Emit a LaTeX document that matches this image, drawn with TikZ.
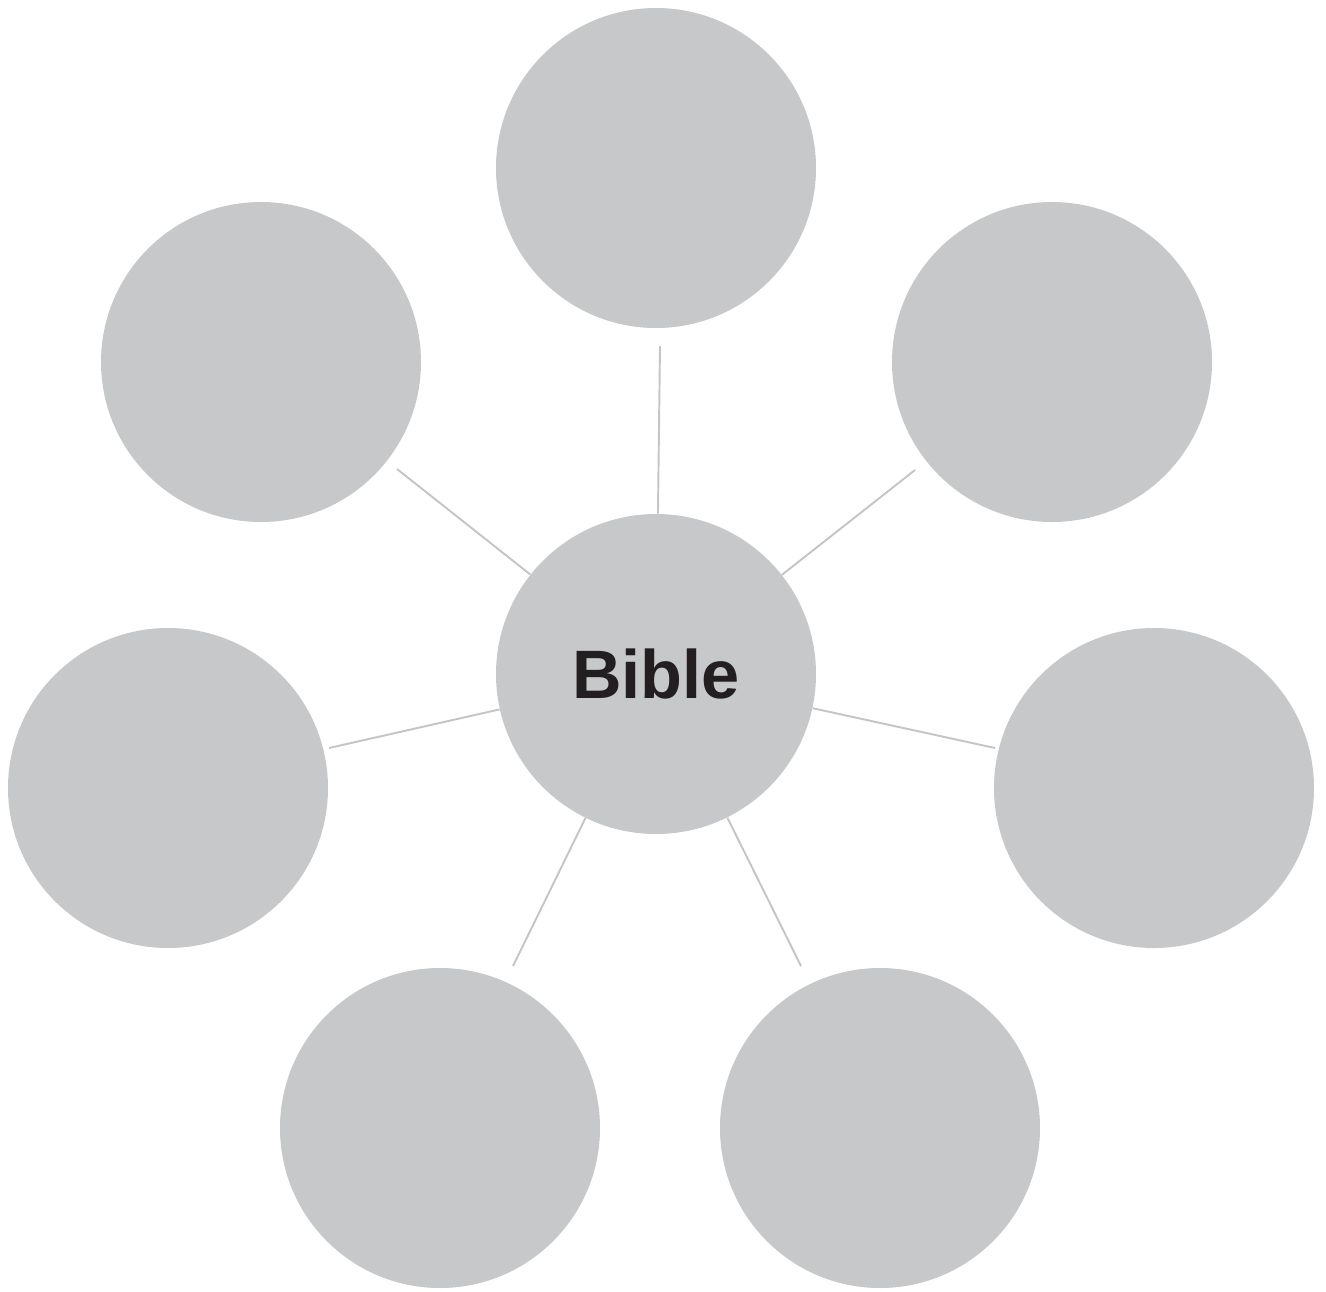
\documentclass[tikz,border=0pt]{standalone}
\usepackage{fontspec}
\usepackage{xcolor}
\usepackage{tikz}
\usetikzlibrary{positioning, calc}
\setmainfont{Liberation Sans}
\definecolor{bubblegray}{RGB}{199, 200, 202}
\definecolor{spokegray}{RGB}{196, 197, 199}
\definecolor{inkblack}{RGB}{35, 31, 32}

\tikzset{
    bubble/.style={circle, fill=bubblegray, minimum size=6.4cm, inner sep=0pt},
    spoke/.style={draw=spokegray, line width=1.1pt}
}

\begin{document}
\begin{tikzpicture}
        \useasboundingbox (0, 0) rectangle (26.52, -25.82);

        % Center
        \node[bubble, font=\bfseries\fontsize{39}{40}\selectfont, text=inkblack] (bible) at (13.12, -13.48) {Bible};

        % Outer bubbles
        \node[bubble] (top) at (13.12, -3.36) {};
        \node[bubble] (upleft) at (5.22, -7.24) {};
        \node[bubble] (upright) at (21.04, -7.24) {};
        \node[bubble] (left) at (3.36, -15.76) {};
        \node[bubble] (right) at (23.08, -15.76) {};
        \node[bubble] (lowleft) at (8.8, -22.56) {};
        \node[bubble] (lowright) at (17.6, -22.56) {};

        % Spoke ends
        \coordinate (topend) at (13.2, -6.92);
        \coordinate (upleftend) at (7.94, -9.38);
        \coordinate (uprightend) at (18.3, -9.4);
        \coordinate (leftend) at (6.58, -14.96);
        \coordinate (rightend) at (19.9, -14.96);
        \coordinate (lowleftend) at (10.26, -19.32);
        \coordinate (lowrightend) at (16.02, -19.32);

        % Spokes
        \foreach \e in {topend, upleftend, uprightend, leftend, rightend, lowleftend, lowrightend}
            \draw[spoke] (bible) -- (\e);
    \end{tikzpicture}
\end{document}
